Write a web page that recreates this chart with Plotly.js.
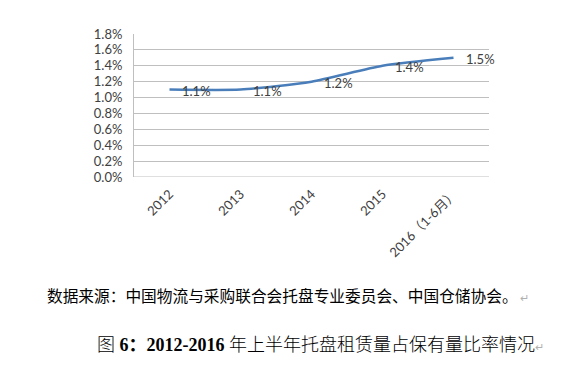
<!DOCTYPE html>
<html><head><meta charset="utf-8">
<script src="https://cdn.plot.ly/plotly-3.0.1.min.js"></script>
<style>html,body{margin:0;padding:0;background:#fff;}</style>
</head><body>
<div id="chart" style="width:575px;height:371px;"></div>
<script>
const categories = ["2012", "2013", "2014", "2015", "2016（1-6月）"];
const values = [0.011, 0.011, 0.012, 0.014, 0.015];
const labels = ["1.1%", "1.1%", "1.2%", "1.4%", "1.5%"];
const yTicks = [0, 0.002, 0.004, 0.006, 0.008, 0.010, 0.012, 0.014, 0.016, 0.018];
const yTickText = ["0.0%", "0.2%", "0.4%", "0.6%", "0.8%", "1.0%", "1.2%", "1.4%", "1.6%", "1.8%"];
const sourceText = "数据来源：中国物流与采购联合会托盘专业委员会、中国仓储协会。";
const captionText = "图 <b>6：2012-2016</b> 年上半年托盘租赁量占保有量比率情况";

const xIdx = categories.map((c, i) => i);

const trace = {
  x: xIdx,
  y: values,
  type: "scatter",
  mode: "lines",
  line: {color: "#4A7EBB", width: 2.5, shape: "spline", smoothing: 0.6},
  hoverinfo: "skip"
};

const labelFont = {family: "Lato, 'Liberation Sans', sans-serif", size: 13, color: "#404040"};

const dataLabels = xIdx.map(i => ({
  xref: "x", yref: "y", x: xIdx[i], y: values[i],
  text: labels[i], showarrow: false, xanchor: "left", yanchor: "middle",
  xshift: 10, yshift: -1, font: labelFont
}));

const layout = {
  width: 575, height: 371,
  margin: {l: 134, r: 86, t: 34, b: 194},
  paper_bgcolor: "#fff", plot_bgcolor: "#fff",
  showlegend: false,
  xaxis: {
    range: [-0.5, 4.5],
    tickmode: "array", tickvals: xIdx, ticktext: categories,
    tickangle: -45, showgrid: false, zeroline: false,
    showline: false, ticks: "", ticklabelstandoff: 6,
    tickfont: {family: "Lato, 'Noto Sans CJK SC', sans-serif", size: 13, color: "#404040"}
  },
  yaxis: {
    range: [0, 0.018],
    tickmode: "array", tickvals: yTicks, ticktext: yTickText,
    showgrid: true, gridcolor: "#BFBFBF", gridwidth: 1,
    zeroline: false, showline: true, linecolor: "#BFBFBF", linewidth: 1,
    ticks: "", ticklen: 0, ticklabelstandoff: 8,
    tickfont: {family: "Lato, 'Liberation Sans', sans-serif", size: 13, color: "#404040"}
  },
  shapes: [
    {type: "line", xref: "paper", yref: "y", x0: 0, x1: 1, y0: 0, y1: 0, line: {color: "#BFBFBF", width: 1}}
  ],
  annotations: dataLabels.concat([
    {xref: "paper", yref: "paper", x: (45-134)/355, y: (177-295)/143, xanchor: "left", yanchor: "middle",
     showarrow: false, text: sourceText + "<span style='color:#b0b0b0;font-size:11px'> ↵</span>",
     font: {family: "'Noto Sans CJK SC', sans-serif", size: 15.7, color: "#000"}},
    {xref: "paper", yref: "paper", x: (95-134)/355, y: (177-345)/143, xanchor: "left", yanchor: "middle",
     showarrow: false, text: captionText + "<span style='color:#b0b0b0;font-size:11px'>↵</span>",
     font: {family: "'Liberation Serif', 'Noto Sans CJK SC', serif", size: 18, color: "#000", weight: 300}}
  ])
};

Plotly.newPlot("chart", [trace], layout, {displayModeBar: false, staticPlot: true});
</script>
</body></html>
